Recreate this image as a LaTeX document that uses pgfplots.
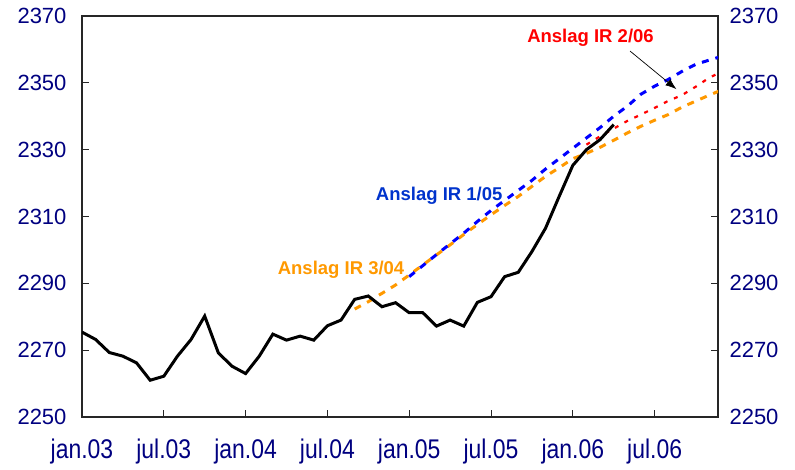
\documentclass[border=0pt]{standalone}
\usepackage{pgfplots}
\pgfplotsset{compat=1.18}
\usetikzlibrary{arrows.meta}
\usepackage{fontspec}
\setmainfont{Liberation Sans}
\newfontfamily\narrowsans{Liberation Sans}[FakeStretch=0.85]
\definecolor{navy}{RGB}{0,0,128}
\definecolor{orng}{RGB}{255,153,0}
\definecolor{lblue}{RGB}{0,51,204}
\definecolor{bblue}{RGB}{0,0,255}
\definecolor{rred}{RGB}{255,0,0}
\begin{document}
\begin{tikzpicture}
\pgfplotsset{
  common/.style={
    scale only axis, width=636pt, height=401pt,
    xmin=0, xmax=46.65, ymin=2250, ymax=2370,
    ytick={2250,2270,...,2370},
    tick align=inside,
    major tick length=7pt,
    /pgf/number format/1000 sep={},
    /pgf/number format/assume math mode=true,
    yticklabel style={font=\fontsize{22}{26}\selectfont, text=navy},
  }
}
\begin{axis}[common,
  xtick={0,6,...,42},
  xticklabels={jan.03,jul.03,jan.04,jul.04,jan.05,jul.05,jan.06,jul.06},
  xtick pos=left,
  ytick pos=both,
  yticklabel pos=left,
  xticklabel style={font=\narrowsans\fontsize{27}{30}\selectfont, text=navy, yshift=-18pt},
  yticklabel style={xshift=-12pt},
  axis line style={line width=1.6pt, black!85},
  tick style={line width=1pt, black!85},
  clip=true,
]
% Anslag IR 3/04 (orange)
\addplot[orng, line width=3pt, dash pattern=on 7pt off 7pt] coordinates {
(20,2282.3)(21,2284.5)(22,2287)(23,2289.5)(24,2292.5)(25,2295.5)(26,2298.5)
(27,2301.5)(28,2304.6)(29,2307.6)(30,2310.5)(31,2313.3)(32,2316)(33,2319)
(34,2322)(35,2324.6)(36,2327.3)(37,2328.9)(38,2330.7)(39,2332.8)(40,2335)
(41,2337)(42,2338.8)(43,2340.5)(44,2342.7)(45,2344.5)(46,2346.3)(47,2348)};
% Anslag IR 1/05 (blue)
\addplot[bblue, line width=3pt, dash pattern=on 7pt off 7pt] coordinates {
(24,2292)(25,2295.3)(26,2298.6)(27,2301.8)(28,2305)(29,2308.5)(30,2311.8)
(31,2314.8)(32,2317.8)(33,2320.8)(34,2324.2)(35,2327.3)(36,2330.4)(37,2333.5)
(38,2336.6)(39,2340)(40,2343)(41,2346.6)(42,2349)(43,2351)(44,2353.4)
(45,2355.5)(46,2356.8)(47,2358)};
% Anslag IR 2/06 (red)
\addplot[rred, line width=2.2pt, dash pattern=on 4pt off 7pt] coordinates {
(37,2331.5)(38,2334)(39,2336.3)(40,2338.6)(41,2340.5)(42,2342.5)(43,2344.6)
(44,2346.3)(45,2348.8)(46,2351.5)(47,2353.5)};
% Actual (black)
\addplot[black, line width=3pt] coordinates {
(0,2275.4)(1,2273.2)(2,2269.3)(3,2268.2)(4,2266.2)(5,2261)(6,2262.2)(7,2268.2)
(8,2273.2)(9,2280.2)(10,2269.2)(11,2265.2)(12,2263)(13,2268.2)(14,2274.8)
(15,2273)(16,2274.2)(17,2273)(18,2277.3)(19,2279)(20,2285.2)(21,2286.2)
(22,2283)(23,2284.2)(24,2281.2)(25,2281.2)(26,2277.2)(27,2279)(28,2277.2)
(29,2284.3)(30,2286)(31,2292)(32,2293.3)(33,2299.5)(34,2306.5)(35,2316)
(36,2325.3)(37,2330)(38,2333)(39,2337.5)};
\node[font=\bfseries\fontsize{18.5}{22}\selectfont, text=orng] at (axis cs:19.0,2294.0) {Anslag IR 3/04};
\node[font=\bfseries\fontsize{18.5}{22}\selectfont, text=lblue] at (axis cs:26.2,2316.1) {Anslag IR 1/05};
\node[font=\bfseries\fontsize{18.5}{22}\selectfont, text=rred] at (axis cs:37.3,2363.4) {Anslag IR 2/06};
\draw[-{Latex[length=11pt,width=8pt]}, line width=0.7pt] (axis cs:40.2,2359.5) -- (axis cs:43.6,2348.1);
\coordinate (SW) at (rel axis cs:0,0);
\coordinate (NE) at (rel axis cs:1,1);
\end{axis}
\begin{axis}[common,
  hide x axis,
  axis line style={draw=none},
  ytick pos=right,
  yticklabel pos=right,
  major tick length=0pt,
  yticklabel style={xshift=8pt},
]
\addplot[draw=none] coordinates {(0,2250)};
\end{axis}
\path (SW) ++(-82pt,-53pt) coordinate (BL);
\path (NE) ++(77pt,16pt) coordinate (TR);
\useasboundingbox (BL) rectangle (TR);
\end{tikzpicture}
\end{document}
